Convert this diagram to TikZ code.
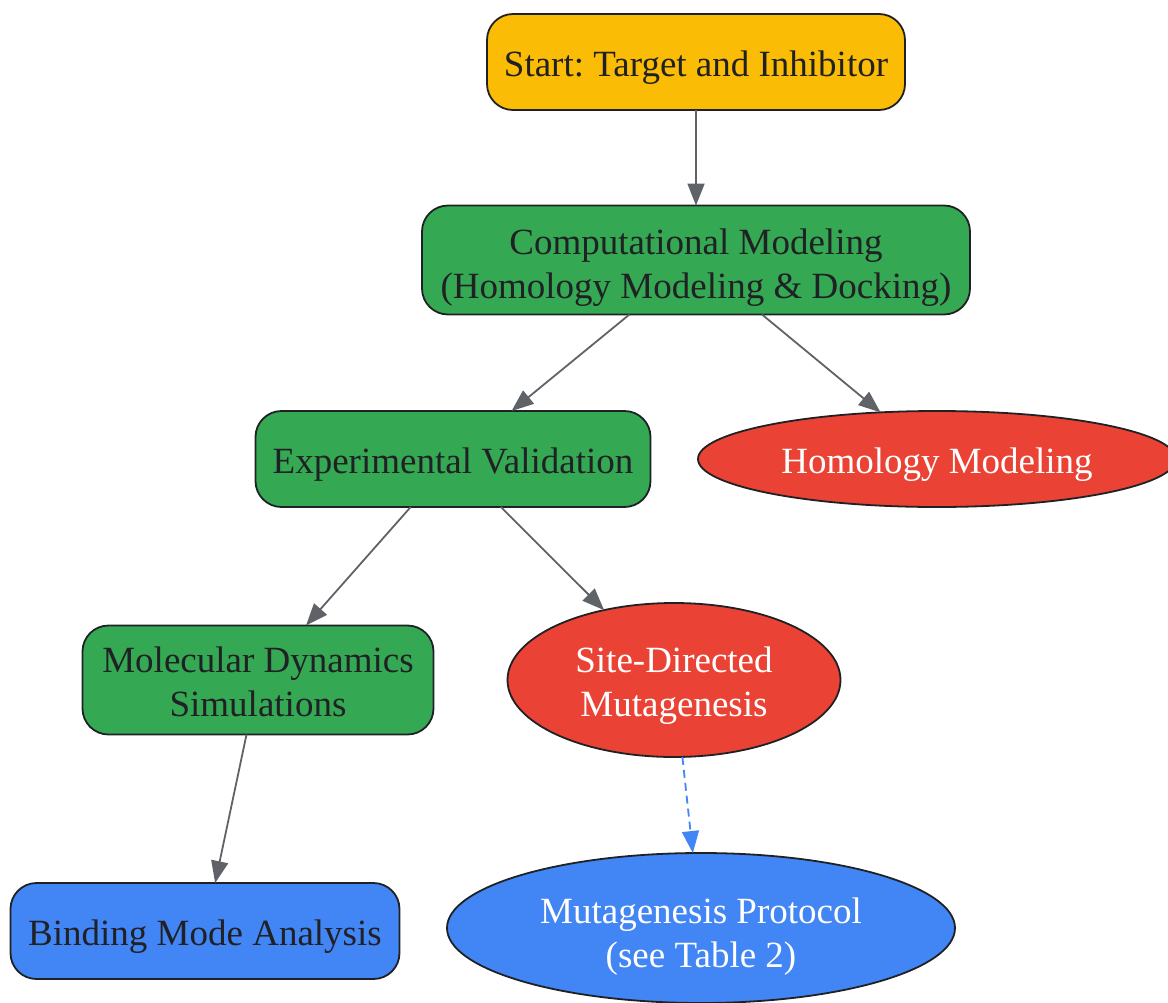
\documentclass[tikz,border=0pt]{standalone}
\usepackage{fontspec}
\setmainfont{Liberation Serif}
\frenchspacing
\usetikzlibrary{shapes.geometric,arrows.meta}
\definecolor{gyellow}{HTML}{FBBC05}
\definecolor{ggreen}{HTML}{34A853}
\definecolor{gred}{HTML}{EA4335}
\definecolor{gblue}{HTML}{4285F4}
\definecolor{ggray}{HTML}{5F6368}
\definecolor{gtext}{HTML}{202124}
\newcommand{\upstrut}[1]{\rule{0pt}{#1}}
\begin{document}
\begin{tikzpicture}[x=1pt,y=-1pt,
  every node/.style={font=\fontsize{37}{44}\selectfont\frenchspacing, align=center, inner sep=0pt, outer sep=0pt,
    execute at begin node={\rule{0pt}{37pt}}},
  rbox/.style={draw=gtext, line width=1.8pt, rectangle, rounded corners=26pt, text=gtext},
  ell/.style={draw=gtext, line width=1.8pt, ellipse, text=white},
  conn/.style={draw=ggray, line width=1.8pt, -{Triangle[length=22pt,width=17pt]}},
  dconn/.style={draw=gblue, line width=1.8pt, dash pattern=on 8pt off 5pt, -{Triangle[length=22pt,width=17pt]}}
]
\useasboundingbox (0,0) rectangle (1168,1002);
\clip (0,0) rectangle (1168,1002);
\node[rbox, fill=gyellow, minimum width=418pt, minimum height=96pt] (start) at (696,62) {Start: Target and Inhibitor};
\node[rbox, fill=ggreen, minimum width=548pt, minimum height=109pt] (comp) at (696,260) {\upstrut{40pt}Computational Modeling\\(Homology Modeling \& Docking)};
\node[rbox, fill=ggreen, minimum width=395pt, minimum height=96pt] (exp) at (453,459) {Experimental Validation};
\node[ell, fill=gred, minimum width=478pt, minimum height=96pt] (hom) at (937,459) {Homology Modeling};
\node[rbox, fill=ggreen, minimum width=351pt, minimum height=109pt] (md) at (258,680) {\upstrut{29pt}Molecular Dynamics\\Simulations};
\node[ell, fill=gred, minimum width=333pt, minimum height=154pt] (site) at (674,680) {\upstrut{37pt}Site-Directed\\Mutagenesis};
\node[rbox, fill=gblue, minimum width=389pt, minimum height=96pt] (bind) at (205,931) {Binding Mode Analysis};
\node[ell, fill=gblue, minimum width=508pt, minimum height=150pt] (mut) at (701,928) {\upstrut{43pt}Mutagenesis Protocol\\(see Table 2)};
\draw[conn] (start) -- (comp);
\draw[conn] (comp) -- (exp);
\draw[conn] (comp) -- (hom);
\draw[conn] (exp) -- (md);
\draw[conn] (exp) -- (site);
\draw[conn] (md) -- (bind);
\draw[dconn] (site) -- (mut);
\end{tikzpicture}
\end{document}
